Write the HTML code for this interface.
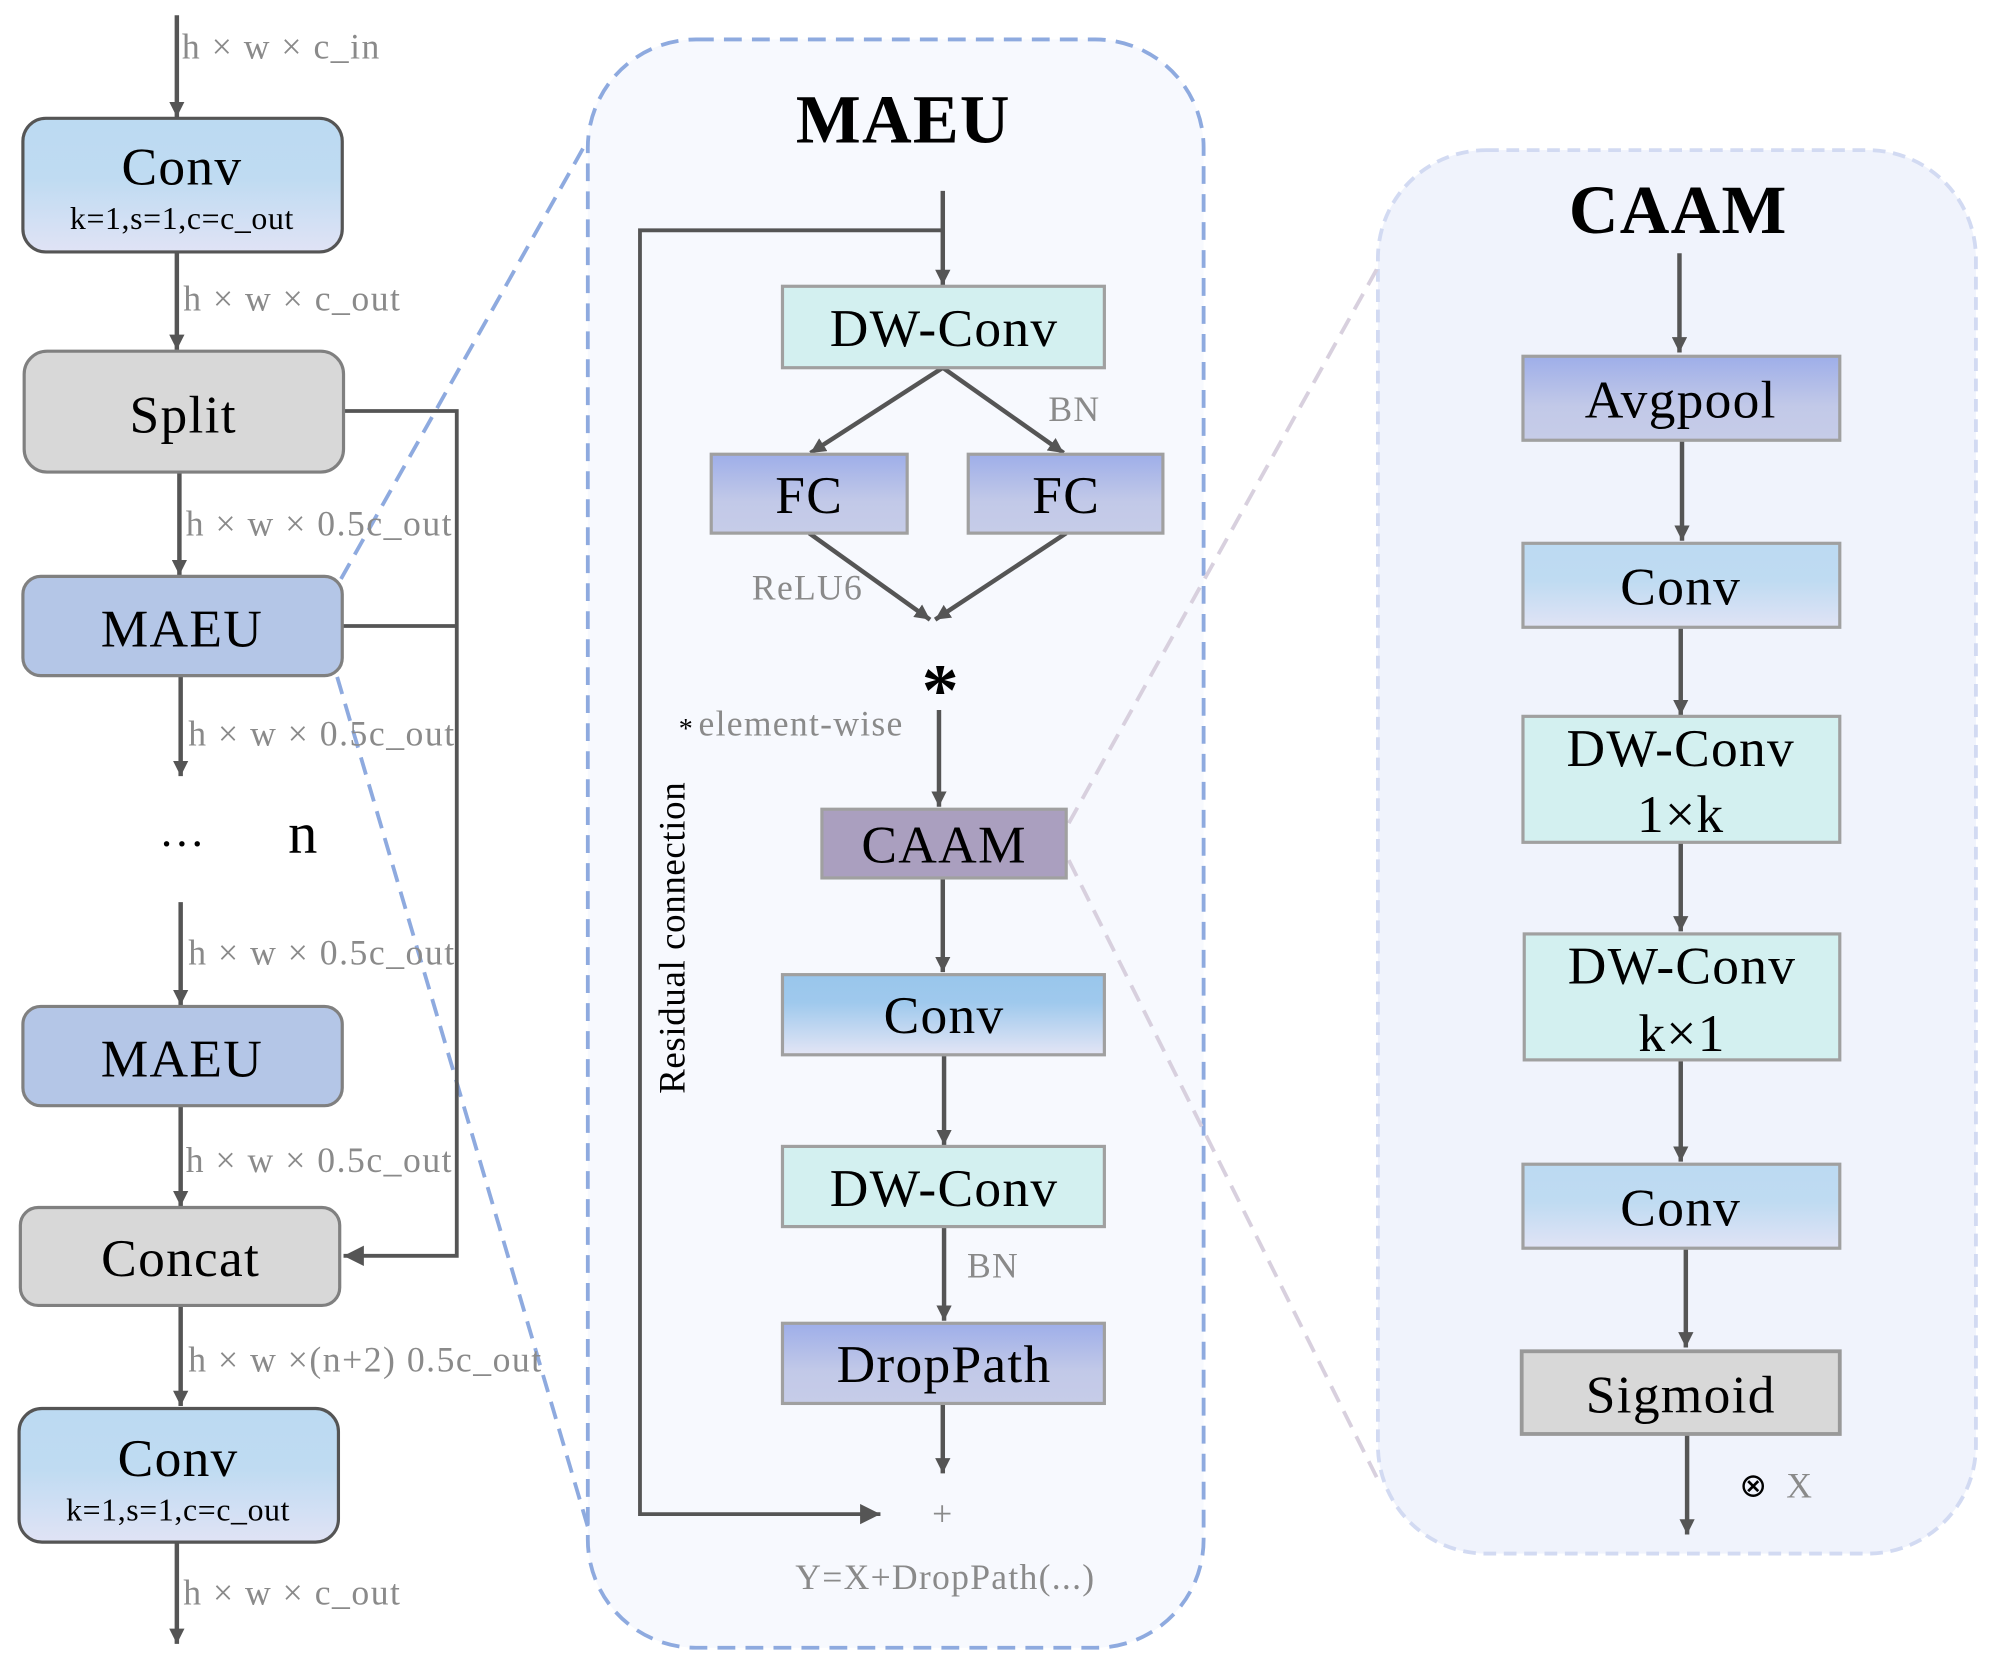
<!DOCTYPE html>
<html><head><meta charset="utf-8"><style>
html,body{margin:0;padding:0;background:#fff;}
svg{display:block;}
text{font-family:"Liberation Serif",serif;}
</style></head><body>
<svg width="1995" height="1670" viewBox="0 0 1568 1312.5" preserveAspectRatio="none" xmlns="http://www.w3.org/2000/svg">
<defs>
<marker id="ah" markerWidth="12" markerHeight="12" refX="10" refY="5" orient="auto" markerUnits="userSpaceOnUse" viewBox="0 0 10 10"><path d="M0,0 L10,5 L0,10 z" fill="#555"/></marker>
<marker id="ahb" markerWidth="16" markerHeight="16" refX="10" refY="5" orient="auto" markerUnits="userSpaceOnUse" viewBox="0 0 10 10"><path d="M0,0 L10,5 L0,10 z" fill="#555"/></marker>
<linearGradient id="gConv" x1="0" y1="0" x2="0" y2="1"><stop offset="0" stop-color="#bcdaf2"/><stop offset="0.45" stop-color="#bfdbf2"/><stop offset="1" stop-color="#e0e3f5"/></linearGradient>
<linearGradient id="gConv2" x1="0" y1="0" x2="0" y2="1"><stop offset="0" stop-color="#99c6ec"/><stop offset="0.35" stop-color="#9fc9ed"/><stop offset="1" stop-color="#e3e5f5"/></linearGradient>
<linearGradient id="gFC" x1="0" y1="0" x2="0" y2="1"><stop offset="0" stop-color="#9eaee9"/><stop offset="0.6" stop-color="#c2c9e8"/><stop offset="1" stop-color="#c6cce8"/></linearGradient>
</defs>

<!-- panels -->
<rect x="462" y="31" width="484" height="1264" rx="85" fill="#f7f9fe" stroke="#8eaadf" stroke-width="3" stroke-dasharray="14,8"/>
<rect x="1083" y="118" width="470" height="1103" rx="85" fill="#f0f3fc" stroke="#d2daf2" stroke-width="3" stroke-dasharray="10,6"/>

<!-- zoom lines -->
<line x1="268" y1="455" x2="462" y2="110" stroke="#8eaadf" stroke-width="3" stroke-dasharray="14,8"/>
<line x1="265" y1="532" x2="462" y2="1200" stroke="#8eaadf" stroke-width="3" stroke-dasharray="14,8"/>
<line x1="840" y1="647" x2="1083" y2="210" stroke="#d8d0de" stroke-width="3" stroke-dasharray="14,8"/>
<line x1="840" y1="676" x2="1083" y2="1163" stroke="#d8d0de" stroke-width="3" stroke-dasharray="14,8"/>

<!-- LEFT COLUMN -->
<g stroke="#555" stroke-width="3.5" fill="none">
<line x1="139" y1="12" x2="139" y2="92" marker-end="url(#ah)"/>
<line x1="139" y1="198" x2="139" y2="275" marker-end="url(#ah)"/>
<line x1="141" y1="371" x2="141" y2="452" marker-end="url(#ah)"/>
<line x1="142" y1="531" x2="142" y2="610" marker-end="url(#ah)"/>
<line x1="142" y1="709" x2="142" y2="790" marker-end="url(#ah)"/>
<line x1="142" y1="869" x2="142" y2="948" marker-end="url(#ah)"/>
<line x1="142" y1="1026" x2="142" y2="1105" marker-end="url(#ah)"/>
<line x1="139" y1="1212" x2="139" y2="1292" marker-end="url(#ah)"/>
<polyline points="270,323 359,323 359,987 270,987" stroke-width="3" marker-end="url(#ahb)"/>
<line x1="269" y1="492" x2="359" y2="492" stroke-width="3"/>
</g>
<rect x="18" y="93" width="251" height="105" rx="18" fill="url(#gConv)" stroke="#555" stroke-width="2.5"/>
<rect x="19" y="276" width="251" height="95" rx="18" fill="#d8d8d8" stroke="#808080" stroke-width="2.5"/>
<rect x="18" y="453" width="251" height="78" rx="14" fill="#b4c6e7" stroke="#808080" stroke-width="2.5"/>
<rect x="18" y="791" width="251" height="78" rx="14" fill="#b4c6e7" stroke="#808080" stroke-width="2.5"/>
<rect x="16" y="949" width="251" height="77" rx="14" fill="#d8d8d8" stroke="#808080" stroke-width="2.5"/>
<rect x="15" y="1107" width="251" height="105" rx="18" fill="url(#gConv)" stroke="#555" stroke-width="2.5"/>

<g font-size="42" fill="#000" text-anchor="middle" letter-spacing="1">
<text x="143" y="145">Conv</text>
<text x="144" y="340">Split</text>
<text x="143" y="508">MAEU</text>
<text x="143" y="846">MAEU</text>
<text x="142" y="1003">Concat</text>
<text x="140" y="1160">Conv</text>
</g>
<g font-size="25" fill="#000" text-anchor="middle" letter-spacing="0.5">
<text x="143" y="180">k=1,s=1,c=c_out</text>
<text x="140" y="1195">k=1,s=1,c=c_out</text>
</g>
<text x="143" y="665" font-size="36" text-anchor="middle">…</text>
<text x="238" y="670" font-size="46" text-anchor="middle">n</text>
<g font-size="28" fill="#8a8a8a" letter-spacing="1.2">
<text x="143" y="46">h × w × c_in</text>
<text x="144" y="244">h × w × c_out</text>
<text x="146" y="421">h × w × 0.5c_out</text>
<text x="148" y="586">h × w × 0.5c_out</text>
<text x="148" y="758">h × w × 0.5c_out</text>
<text x="146" y="921">h × w × 0.5c_out</text>
<text x="148" y="1078">h × w ×(n+2) 0.5c_out</text>
<text x="144" y="1261">h × w × c_out</text>
</g>

<!-- MAEU PANEL -->
<text x="710" y="112" font-size="54" font-weight="bold" text-anchor="middle" letter-spacing="1">MAEU</text>
<g stroke="#555" stroke-width="3.5" fill="none">
<line x1="741" y1="150" x2="741" y2="224" marker-end="url(#ah)"/>
<polyline points="741,181 503,181 503,1190 692,1190" stroke-width="3" marker-end="url(#ahb)"/>
<line x1="741" y1="289" x2="637" y2="356" marker-end="url(#ah)"/>
<line x1="741" y1="289" x2="836" y2="356" marker-end="url(#ah)"/>
<line x1="636" y1="419" x2="731" y2="487" marker-end="url(#ah)"/>
<line x1="838" y1="419" x2="735" y2="487" marker-end="url(#ah)"/>
<line x1="738" y1="558" x2="738" y2="634" marker-end="url(#ah)"/>
<line x1="741" y1="690" x2="741" y2="764" marker-end="url(#ah)"/>
<line x1="742" y1="829" x2="742" y2="900" marker-end="url(#ah)"/>
<line x1="742" y1="964" x2="742" y2="1038" marker-end="url(#ah)"/>
<line x1="741" y1="1103" x2="741" y2="1158" marker-end="url(#ah)"/>
</g>
<rect x="615" y="225" width="253" height="64" fill="#d3f0f0" stroke="#a0a0a0" stroke-width="2.5"/>
<rect x="559" y="357" width="154" height="62" fill="url(#gFC)" stroke="#a0a0a0" stroke-width="2.5"/>
<rect x="761" y="357" width="153" height="62" fill="url(#gFC)" stroke="#a0a0a0" stroke-width="2.5"/>
<rect x="646" y="636" width="192" height="54" fill="#aa9fbf" stroke="#a0a0a0" stroke-width="2.5"/>
<rect x="615" y="766" width="253" height="63" fill="url(#gConv2)" stroke="#a0a0a0" stroke-width="2.5"/>
<rect x="615" y="901" width="253" height="63" fill="#d3f0f0" stroke="#a0a0a0" stroke-width="2.5"/>
<rect x="615" y="1040" width="253" height="63" fill="url(#gFC)" stroke="#a0a0a0" stroke-width="2.5"/>
<g font-size="42" fill="#000" text-anchor="middle" letter-spacing="1">
<text x="742" y="272">DW-Conv</text>
<text x="636" y="403">FC</text>
<text x="838" y="403">FC</text>
<text x="742" y="678">CAAM</text>
<text x="742" y="812">Conv</text>
<text x="742" y="948">DW-Conv</text>
<text x="742" y="1086">DropPath</text>
</g>
<g font-size="28" fill="#8a8a8a" letter-spacing="1">
<text x="824" y="331">BN</text>
<text x="591" y="471">ReLU6</text>
<text x="760" y="1004">BN</text>
<text x="549" y="578">element-wise</text>
<text x="741" y="1199" text-anchor="middle">+</text>
<text x="743" y="1249" text-anchor="middle">Y=X+DropPath(...)</text>
</g>
<text x="539" y="580" font-size="22" text-anchor="middle">*</text>
<text x="739" y="562" font-size="58" font-weight="bold" text-anchor="middle">*</text>
<text transform="translate(538,737) rotate(-90)" font-size="29" text-anchor="middle" letter-spacing="0.5">Residual connection</text>

<!-- CAAM PANEL -->
<text x="1319" y="183" font-size="54" font-weight="bold" text-anchor="middle" letter-spacing="1">CAAM</text>
<g stroke="#555" stroke-width="3.5" fill="none">
<line x1="1320" y1="199" x2="1320" y2="277" marker-end="url(#ah)"/>
<line x1="1322" y1="346" x2="1322" y2="425" marker-end="url(#ah)"/>
<line x1="1321" y1="493" x2="1321" y2="562" marker-end="url(#ah)"/>
<line x1="1321" y1="662" x2="1321" y2="732" marker-end="url(#ah)"/>
<line x1="1321" y1="833" x2="1321" y2="913" marker-end="url(#ah)"/>
<line x1="1325" y1="981" x2="1325" y2="1059" marker-end="url(#ah)"/>
<line x1="1326" y1="1127" x2="1326" y2="1206" marker-end="url(#ah)"/>
</g>
<rect x="1197" y="280" width="249" height="66" fill="url(#gFC)" stroke="#a0a0a0" stroke-width="2.5"/>
<rect x="1197" y="427" width="249" height="66" fill="url(#gConv)" stroke="#a0a0a0" stroke-width="2.5"/>
<rect x="1197" y="563" width="249" height="99" fill="#d3f0f0" stroke="#a0a0a0" stroke-width="2.5"/>
<rect x="1198" y="734" width="248" height="99" fill="#d3f0f0" stroke="#a0a0a0" stroke-width="2.5"/>
<rect x="1197" y="915" width="249" height="66" fill="url(#gConv)" stroke="#a0a0a0" stroke-width="2.5"/>
<rect x="1196" y="1062" width="250" height="65" fill="#d8d8d8" stroke="#999" stroke-width="3"/>
<g font-size="42" fill="#000" text-anchor="middle" letter-spacing="1">
<text x="1321" y="328">Avgpool</text>
<text x="1321" y="475">Conv</text>
<text x="1321" y="602">DW-Conv</text>
<text x="1321" y="654">1×k</text>
<text x="1322" y="773">DW-Conv</text>
<text x="1322" y="826">k×1</text>
<text x="1321" y="963">Conv</text>
<text x="1321" y="1110">Sigmoid</text>
</g>
<text x="1378" y="1176" font-size="26" text-anchor="middle">⊗</text>
<text x="1414" y="1177" font-size="28" fill="#8a8a8a" text-anchor="middle">X</text>
</svg>
</body></html>
